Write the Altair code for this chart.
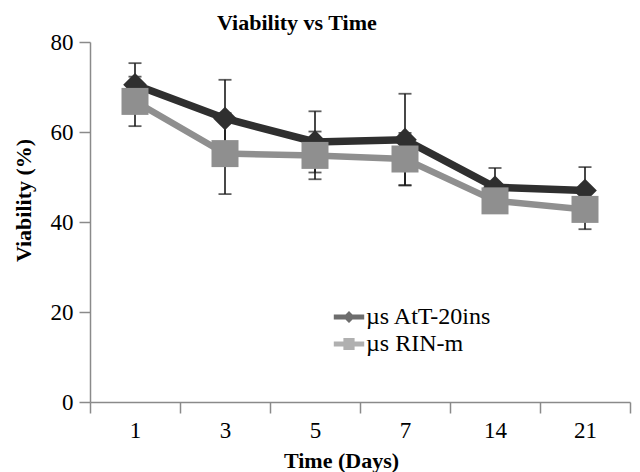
import altair as alt
import pandas as pd

days = ["1", "3", "5", "7", "14", "21"]
series_names = ["µs AtT-20ins", "µs RIN-m"]
att_mean = [70.5, 63.0, 57.8, 58.3, 47.7, 47.0]
att_err = [4.8, 8.6, 6.8, 10.2, 4.3, 5.2]
rin_mean = [66.8, 55.2, 54.8, 54.0, 44.7, 42.8]
rin_err = [5.5, 9.0, 5.3, 5.8, 2.0, 4.4]

rows = []
for name, means, errs in [(series_names[0], att_mean, att_err), (series_names[1], rin_mean, rin_err)]:
    for d, m, e in zip(days, means, errs):
        rows.append({"series": name, "day": d, "mean": m, "lo": m - e, "hi": m + e})
df = pd.DataFrame(rows)

DARK = "#2f2f2f"
GRAY = "#8f8f8f"
FONT = "Liberation Serif"

x_enc = alt.X("day:N", sort=days, title="Time (Days)",
              scale=alt.Scale(paddingInner=0, paddingOuter=0),
              axis=alt.Axis(labelAngle=0, tickBand="extent", titleX=251, titleY=65,
                            titleBaseline="alphabetic"))
y_scale = alt.Scale(domain=[0, 80])
y_axis = alt.Axis(values=[0, 20, 40, 60, 80], title="Viability (%)", titleX=-67, titleY=158,
                  titleBaseline="middle", titleAngle=-90)

base = alt.Chart(df)

err_rule = base.mark_rule(color="#1a1a1a", strokeWidth=1.6).encode(
    x=x_enc, y=alt.Y("lo:Q", scale=y_scale, axis=y_axis), y2="hi:Q")
cap_lo = base.mark_tick(color="#1a1a1a", thickness=1.8, size=13).encode(
    x=x_enc, y=alt.Y("lo:Q", scale=y_scale))
cap_hi = base.mark_tick(color="#1a1a1a", thickness=1.8, size=13).encode(
    x=x_enc, y=alt.Y("hi:Q", scale=y_scale))

def series_layers(name, color, shape, size, width):
    sub = base.transform_filter(alt.datum.series == name)
    line = sub.mark_line(color=color, strokeWidth=width).encode(
        x=x_enc, y=alt.Y("mean:Q", scale=y_scale))
    pts = sub.mark_point(filled=True, color=color, shape=shape, size=size, opacity=1).encode(
        x=x_enc, y=alt.Y("mean:Q", scale=y_scale))
    return [line, pts]

legend_paths = [
    "M-1.9,-0.3L1.9,-0.3L1.9,0.3L-1.9,0.3Z M-0.75,0L0,-0.75L0.75,0L0,0.75Z",
    "M-1.9,-0.3L1.9,-0.3L1.9,0.3L-1.9,0.3Z M-0.7,-0.75L0.7,-0.75L0.7,0.75L-0.7,0.75Z",
]
leg = alt.Legend(title=None, orient="none", legendX=247, legendY=263,
                 labelFont=FONT, labelFontSize=24, labelColor="black",
                 symbolSize=256, symbolStrokeWidth=0, labelOffset=5, rowPadding=3)
legend_layer = base.transform_filter("false").mark_point(filled=True, size=256).encode(
    x=x_enc, y=alt.Y("mean:Q", scale=y_scale),
    color=alt.Color("series:N", scale=alt.Scale(domain=series_names, range=[DARK, GRAY]), legend=leg),
    shape=alt.Shape("series:N", scale=alt.Scale(domain=series_names, range=legend_paths), legend=leg),
)

layers = [err_rule, cap_lo, cap_hi]
layers += series_layers(series_names[0], DARK, "diamond", 560, 7.5)
layers += series_layers(series_names[1], GRAY, "square", 729, 6.5)
layers.append(legend_layer)

chart = alt.layer(*layers).properties(
    width=540, height=360,
    title=alt.TitleParams("Viability vs Time", anchor="start", frame="group", dx=127, dy=12, offset=8,
                          font=FONT, fontSize=22, fontWeight="bold", color="black"),
    autosize="none",
    padding={"left": 82, "top": 34, "right": 2, "bottom": 70},
).configure_view(stroke=None).configure_axis(
    grid=False, domainColor="#8a8a8a", domainWidth=1.5, tickColor="#8a8a8a", tickWidth=1.5,
    tickSize=11, labelFont=FONT, labelFontSize=23, labelColor="black", labelPadding=6,
    titleFont=FONT, titleFontSize=22, titleFontWeight="bold", titleColor="black",
).configure_axisX(labelPadding=6)

chart.save("out.html", embed_options={"renderer": "svg", "actions": False})
